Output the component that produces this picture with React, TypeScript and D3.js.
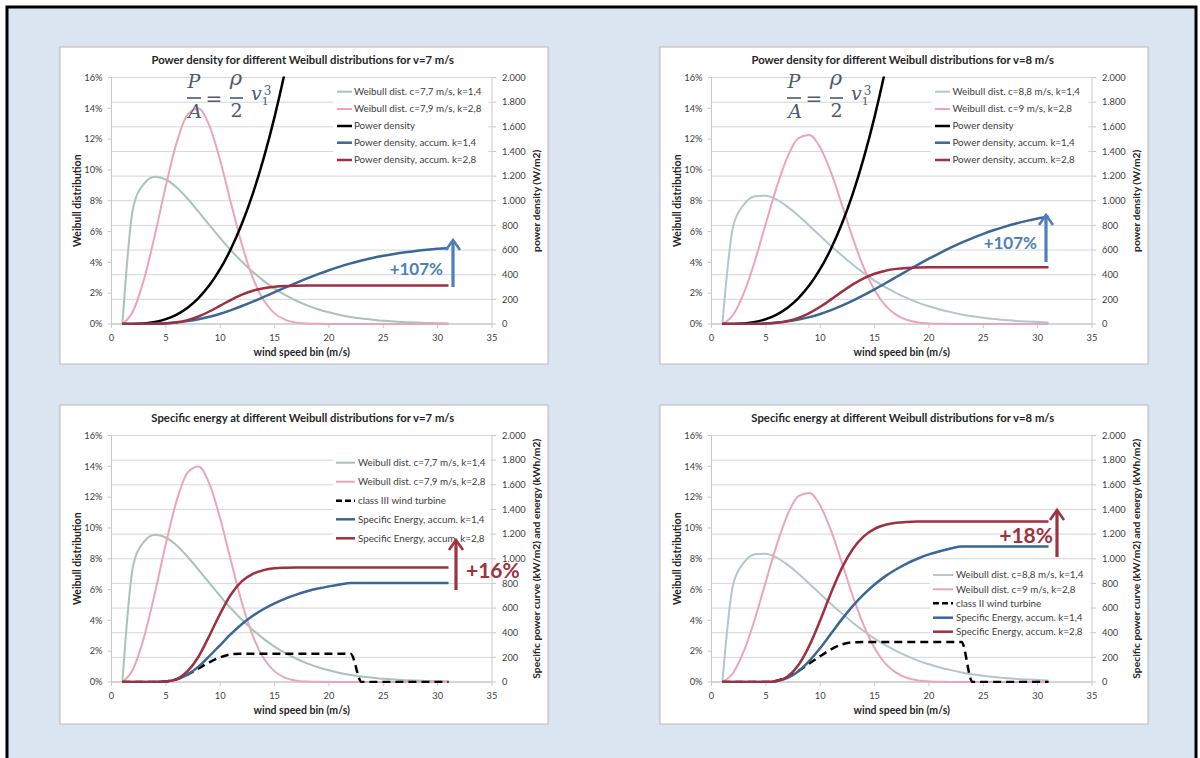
import React from 'react';
import * as d3 from 'd3';

// ---------- DATA ----------
const windBins = [1, 2, 3, 4, 5, 6, 7, 8, 9, 10, 11, 12, 13, 14, 15, 16, 17, 18, 19, 20, 21, 22, 23, 24, 25, 26, 27, 28, 29, 30, 31];
const xTicks = [0, 5, 10, 15, 20, 25, 30, 35];
const leftTicks = [0, 2, 4, 6, 8, 10, 12, 14, 16];
const leftTickLabels = ['0%', '2%', '4%', '6%', '8%', '10%', '12%', '14%', '16%'];
const rightTicks = [0, 200, 400, 600, 800, 1000, 1200, 1400, 1600, 1800, 2000];
const rightTickLabels = ['0', '200', '400', '600', '800', '1.000', '1.200', '1.400', '1.600', '1.800', '2.000'];

// Weibull distributions (% per bin)
const weibullC77k14 = [0, 7.58, 9.11, 9.55, 9.38, 8.86, 8.13, 7.29, 6.43, 5.58, 4.77, 4.04, 3.38, 2.8, 2.3, 1.87, 1.51, 1.21, 0.96, 0.76, 0.59, 0.46, 0.36, 0.28, 0.21, 0.16, 0.12, 0.09, 0.07, 0.05, 0.04];
const weibullC79k28 = [0, 0.86, 2.93, 5.8, 8.97, 11.79, 13.59, 13.98, 12.87, 10.61, 7.82, 5.14, 2.99, 1.54, 0.69, 0.27, 0.09, 0.03, 0.01, 0, 0, 0, 0, 0, 0, 0, 0, 0, 0, 0, 0];
const weibullC88k14 = [0, 6.36, 7.76, 8.29, 8.33, 8.07, 7.6, 7.03, 6.38, 5.72, 5.06, 4.44, 3.85, 3.31, 2.82, 2.39, 2.01, 1.68, 1.39, 1.15, 0.94, 0.77, 0.62, 0.5, 0.4, 0.32, 0.26, 0.2, 0.16, 0.13, 0.1];
const weibullC9k28 = [0, 0.6, 2.05, 4.11, 6.52, 8.9, 10.87, 12.07, 12.26, 11.45, 9.82, 7.73, 5.57, 3.67, 2.2, 1.19, 0.59, 0.26, 0.1, 0.04, 0.01, 0, 0, 0, 0, 0, 0, 0, 0, 0, 0];

// Power density (W/m2)
const powerDensity = [0, 0.6, 4.9, 16.5, 39.2, 76.6, 132.3, 210.1, 313.6, 446.5, 612.5, 815.2, 1058.4, 1345.7, 1680.7, 2067.2, 2508.8, 3009.2, 3572.1];
const powerAccumK14v7 = [0, 0.05, 0.49, 2.07, 5.75, 12.53, 23.29, 38.61, 58.77, 83.68, 112.9, 145.8, 181.6, 219.3, 257.9, 296.4, 334.2, 370.4, 404.7, 436.5, 465.6, 491.8, 515.1, 535.6, 553.5, 568.8, 581.9, 592.9, 602.2, 609.9, 616.1];
const powerAccumK28v7 = [0, 0.01, 0.15, 1.11, 4.62, 13.65, 31.63, 61, 101.4, 148.7, 196.6, 238.5, 270.2, 290.9, 302.6, 308.2, 310.5, 311.4, 311.6, 311.7, 311.7, 311.7, 311.7, 311.7, 311.7, 311.7, 311.7, 311.7, 311.7, 311.7, 311.7];
const powerAccumK14v8 = [0, 0.04, 0.42, 1.79, 5.06, 11.24, 21.29, 36.06, 56.07, 81.61, 112.6, 148.8, 189.5, 234.1, 281.5, 330.9, 381.3, 431.9, 481.5, 529.7, 575.8, 619.3, 659.9, 697.3, 731.6, 762.6, 790.3, 814.9, 836.6, 855.5, 871.9];
const powerAccumK28v8 = [0, 0, 0.1, 0.78, 3.34, 10.15, 24.53, 49.89, 88.34, 139.5, 199.6, 262.6, 321.6, 371, 407.9, 432.5, 447.2, 455, 458.7, 460.3, 460.8, 461, 461, 461, 461, 461, 461, 461, 461, 461, 461];

// Turbine power curves and specific energy
const turbineClassIII = [0, 0, 0, 0, 5, 22, 60, 110, 160, 200, 225, 230, 230, 230, 230, 230, 230, 230, 230, 230, 230, 230, 0, 0, 0, 0, 0, 0, 0, 0, 0];
const turbineClassII = [0, 0, 0, 0, 0, 10, 40, 90, 150, 210, 265, 305, 322, 325, 325, 325, 325, 325, 325, 325, 325, 325, 325, 0, 0, 0, 0, 0, 0, 0, 0];
const energyAccumK14v7 = [0, 0, 0, 0, 4, 21, 60, 125, 210, 300, 390, 470, 537, 592, 638, 677, 709, 736, 758, 776, 791, 803, 803, 803, 803, 803, 803, 803, 803, 803, 803];
const energyAccumK28v7 = [0, 0, 0, 0, 4, 24, 88, 205, 375, 555, 712, 818, 877, 908, 922, 927, 929, 929, 929, 929, 929, 929, 929, 929, 929, 929, 929, 929, 929, 929, 929];
const energyAccumK14v8 = [0, 0, 0, 0, 0, 7, 33, 88, 172, 276, 393, 510, 618, 711, 791, 859, 915, 963, 1002, 1035, 1061, 1083, 1100, 1100, 1100, 1100, 1100, 1100, 1100, 1100, 1100];
const energyAccumK28v8 = [0, 0, 0, 0, 0, 8, 45, 138, 295, 501, 724, 926, 1079, 1181, 1243, 1276, 1292, 1299, 1302, 1303, 1303, 1303, 1303, 1303, 1303, 1303, 1303, 1303, 1303, 1303, 1303];

// ---------- STYLE ----------
const FONT = 'Lato, "Open Sans", sans-serif';
const C_GREEN = '#a9c3b7';
const C_GREY_BLUE = '#b4c5d0';
const C_PINK = '#eaa6b8';
const C_BLUE = '#3a6698';
const C_RED = '#9e3040';
const C_BLACK = '#000000';
const C_ANN_BLUE = '#4f7fb8';
const C_ANN_RED = '#9b3340';

type Series = { values: number[]; color: string; width: number; dash?: string; axis: 'left' | 'right' };
type LegendItem = { label: string; color: string; dash?: string; thin?: boolean };

interface PanelProps {
  id: string;
  bx: number;
  by: number;
  h: number;
  title: string;
  rightLabel: string;
  series: Series[];
  legend: LegendItem[];
  legendBox: [number, number, number, number];
  legendSample: [number, number];
  legendTextX: number;
  legendRows: number[];
  ann: { text: string; tx: number; ty: number; anchor: 'start' | 'end'; size: number; color: string; ax: number; ay0: number; ay1: number; acolor: string };
  formula?: boolean;
}

function Formula({ x, y }: { x: number; y: number }) {
  const f = '"DejaVu Serif", "Liberation Serif", serif';
  const col = '#4f5a72';
  return (
    <g fill={col} fontFamily={f} fontStyle="italic">
      <text x={x + 5} y={y + 18} fontSize={19} textAnchor="middle">P</text>
      <line x1={x - 2} x2={x + 12} y1={y + 28} y2={y + 28} stroke={col} strokeWidth={1.6} />
      <text x={x + 6} y={y + 48} fontSize={19} textAnchor="middle">A</text>
      <text x={x + 25} y={y + 35.5} fontSize={20} fontStyle="normal" textAnchor="middle">=</text>
      <text x={x + 47} y={y + 15} fontSize={21} textAnchor="middle">ρ</text>
      <line x1={x + 41} x2={x + 54} y1={y + 28} y2={y + 28} stroke={col} strokeWidth={1.6} />
      <text x={x + 47.5} y={y + 47} fontSize={19} fontStyle="normal" textAnchor="middle">2</text>
      <text x={x + 62} y={y + 30} fontSize={19}>
        v
        <tspan dy={5} fontSize={11} fontStyle="normal">1</tspan>
        <tspan dx={-5} dy={-10} fontSize={12} fontStyle="normal">3</tspan>
      </text>
    </g>
  );
}

function Panel(p: PanelProps) {
  const { bx, by } = p;
  const pl = bx + 51.5;
  const pr = bx + 432;
  const pt = by + 30.5;
  const pb = by + 277;
  const x = d3.scaleLinear().domain([0, 35]).range([pl, pr]);
  const yL = d3.scaleLinear().domain([0, 16]).range([pb, pt]);
  const yR = d3.scaleLinear().domain([0, 2000]).range([pb, pt]);
  const cx = (pl + pr) / 2;
  const cy = (pt + pb) / 2;

  const lineFor = (s: Series) => {
    const sc = s.axis === 'left' ? yL : yR;
    const pts: [number, number][] = s.values.map((v, i) => [windBins[i], v]);
    return d3
      .line<[number, number]>()
      .x((d) => x(d[0]))
      .y((d) => sc(d[1]))
      .curve(d3.curveMonotoneX)(pts) as string;
  };

  const a = p.ann;
  return (
    <g>
      <rect x={bx} y={by} width={488} height={p.h} fill="#ffffff" stroke="#b8b8b8" strokeWidth={1} />
      <clipPath id={`clip-${p.id}`}>
        <rect x={pl} y={pt - 1} width={pr - pl} height={pb - pt + 2} />
      </clipPath>
      {/* title */}
      <text x={cx + 1} y={by + 17} fontFamily={FONT} fontWeight={700} fontSize={11.3} textAnchor="middle" fill="#262626">
        {p.title}
      </text>
      {/* gridlines */}
      {rightTicks.map((t) => (
        <line key={`g${t}`} x1={pl} x2={pr} y1={yR(t)} y2={yR(t)} stroke="#d6d6d6" strokeWidth={1} />
      ))}
      {/* axes lines */}
      <line x1={pl} x2={pl} y1={pt} y2={pb} stroke="#c8c8c8" />
      <line x1={pr} x2={pr} y1={pt} y2={pb} stroke="#c8c8c8" />
      <line x1={pl} x2={pr} y1={pb} y2={pb} stroke="#bfbfbf" />
      {leftTicks.map((t, i) => (
        <g key={`l${t}`}>
          <line x1={pl - 4} x2={pl} y1={yL(t)} y2={yL(t)} stroke="#c8c8c8" />
          <text x={pl - 9} y={yL(t) + 3.2} fontFamily={FONT} fontSize={9.3} textAnchor="end" fill="#404040">
            {leftTickLabels[i]}
          </text>
        </g>
      ))}
      {rightTicks.map((t, i) => (
        <g key={`r${t}`}>
          <line x1={pr} x2={pr + 4} y1={yR(t)} y2={yR(t)} stroke="#c8c8c8" />
          <text x={pr + 10} y={yR(t) + 3.2} fontFamily={FONT} fontSize={9.3} textAnchor="start" fill="#404040">
            {rightTickLabels[i]}
          </text>
        </g>
      ))}
      {xTicks.map((t) => (
        <g key={`x${t}`}>
          <line x1={x(t)} x2={x(t)} y1={pb} y2={pb + 4} stroke="#c8c8c8" />
          <text x={x(t)} y={pb + 17} fontFamily={FONT} fontSize={9.3} textAnchor="middle" fill="#404040">
            {t}
          </text>
        </g>
      ))}
      {/* axis titles */}
      <text x={cx} y={pb + 32} fontFamily={FONT} fontWeight={700} fontSize={10.5} textAnchor="middle" fill="#262626">
        wind speed bin (m/s)
      </text>
      <text
        transform={`translate(${bx + 21},${cy}) rotate(-90)`}
        fontFamily={FONT}
        fontWeight={700}
        fontSize={10.5}
        textAnchor="middle"
        fill="#262626"
      >
        Weibull distribution
      </text>
      <text
        transform={`translate(${bx + 480},${cy}) rotate(-90)`}
        fontFamily={FONT}
        fontWeight={700}
        fontSize={10.3}
        textAnchor="middle"
        fill="#262626"
      >
        {p.rightLabel}
      </text>
      {/* series */}
      <g clipPath={`url(#clip-${p.id})`}>
        {p.series.map((s, i) => (
          <path
            key={i}
            d={lineFor(s)}
            fill="none"
            stroke={s.color}
            strokeWidth={s.width}
            strokeDasharray={s.dash}
            strokeLinejoin="round"
          />
        ))}
      </g>
      {/* legend */}
      <rect x={bx + p.legendBox[0]} y={by + p.legendBox[1]} width={p.legendBox[2]} height={p.legendBox[3]} fill="#ffffff" />
      {p.legend.map((l, i) => (
        <g key={`lg${i}`}>
          <line
            x1={bx + p.legendSample[0]}
            x2={bx + p.legendSample[1]}
            y1={by + p.legendRows[i]}
            y2={by + p.legendRows[i]}
            stroke={l.color}
            strokeWidth={l.thin ? 2 : 2.5}
            strokeDasharray={l.dash}
          />
          <text x={bx + p.legendTextX} y={by + p.legendRows[i] + 3.3} fontFamily={FONT} fontSize={9.8} fill="#404040">
            {l.label}
          </text>
        </g>
      ))}
      {p.formula && <Formula x={bx + 129} y={by + 23} />}
      {/* annotation */}
      <line x1={a.ax} x2={a.ax} y1={a.ay0} y2={a.ay1 + 1} stroke={a.acolor} strokeWidth={3.2} />
      <polyline
        points={`${a.ax - 7},${a.ay1 + 10} ${a.ax},${a.ay1} ${a.ax + 7},${a.ay1 + 10}`}
        fill="none"
        stroke={a.acolor}
        strokeWidth={2.6}
        strokeLinejoin="miter"
      />
      <text x={a.tx} y={a.ty} fontFamily={FONT} fontWeight={700} fontSize={a.size} textAnchor={a.anchor} fill={a.color}>
        {a.text}
      </text>
    </g>
  );
}

export default function App() {
  const legendTop = [44.7, 62, 79, 95.7, 113];
  const p1: PanelProps = {
    id: 'p1',
    bx: 60,
    by: 47,
    h: 317,
    title: 'Power density for different Weibull distributions for v=7 m/s',
    rightLabel: 'power density (W/m2)',
    series: [
      { values: weibullC77k14, color: C_GREEN, width: 2, axis: 'left' },
      { values: weibullC79k28, color: C_PINK, width: 2, axis: 'left' },
      { values: powerDensity, color: C_BLACK, width: 2.5, axis: 'right' },
      { values: powerAccumK14v7, color: C_BLUE, width: 2.5, axis: 'right' },
      { values: powerAccumK28v7, color: C_RED, width: 2.5, axis: 'right' },
    ],
    legend: [
      { label: 'Weibull dist. c=7,7 m/s, k=1,4', color: C_GREEN, thin: true },
      { label: 'Weibull dist. c=7,9 m/s, k=2,8', color: C_PINK, thin: true },
      { label: 'Power density', color: C_BLACK },
      { label: 'Power density, accum. k=1,4', color: C_BLUE },
      { label: 'Power density, accum. k=2,8', color: C_RED },
    ],
    legendBox: [273, 36, 155, 86],
    legendSample: [277, 292],
    legendTextX: 294,
    legendRows: legendTop,
    ann: { text: '+107%', tx: 443, ty: 275, anchor: 'end', size: 17, color: C_ANN_BLUE, ax: 453, ay0: 287, ay1: 240, acolor: C_ANN_BLUE },
    formula: true,
  };
  const p2: PanelProps = {
    id: 'p2',
    bx: 660,
    by: 47,
    h: 317,
    title: 'Power density for different Weibull distributions for v=8 m/s',
    rightLabel: 'power density (W/m2)',
    series: [
      { values: weibullC88k14, color: C_GREY_BLUE, width: 2, axis: 'left' },
      { values: weibullC9k28, color: C_PINK, width: 2, axis: 'left' },
      { values: powerDensity, color: C_BLACK, width: 2.5, axis: 'right' },
      { values: powerAccumK14v8, color: C_BLUE, width: 2.5, axis: 'right' },
      { values: powerAccumK28v8, color: C_RED, width: 2.5, axis: 'right' },
    ],
    legend: [
      { label: 'Weibull dist. c=8,8 m/s, k=1,4', color: C_GREY_BLUE, thin: true },
      { label: 'Weibull dist. c=9 m/s, k=2,8', color: C_PINK, thin: true },
      { label: 'Power density', color: C_BLACK },
      { label: 'Power density, accum. k=1,4', color: C_BLUE },
      { label: 'Power density, accum. k=2,8', color: C_RED },
    ],
    legendBox: [271, 36, 157, 86],
    legendSample: [275, 290],
    legendTextX: 292.5,
    legendRows: legendTop,
    ann: { text: '+107%', tx: 1037, ty: 249, anchor: 'end', size: 17, color: C_ANN_BLUE, ax: 1046, ay0: 262, ay1: 215, acolor: C_ANN_BLUE },
    formula: true,
  };
  const p3: PanelProps = {
    id: 'p3',
    bx: 60,
    by: 405,
    h: 319,
    title: 'Specific energy at different Weibull distributions for v=7 m/s',
    rightLabel: 'Specific power curve (kW/m2) and energy (kWh/m2)',
    series: [
      { values: weibullC77k14, color: C_GREEN, width: 2, axis: 'left' },
      { values: weibullC79k28, color: C_PINK, width: 2, axis: 'left' },
      { values: turbineClassIII, color: C_BLACK, width: 2.5, dash: '8 5', axis: 'right' },
      { values: energyAccumK14v7, color: C_BLUE, width: 2.5, axis: 'right' },
      { values: energyAccumK28v7, color: C_RED, width: 2.5, axis: 'right' },
    ],
    legend: [
      { label: 'Weibull dist. c=7,7 m/s, k=1,4', color: C_GREEN, thin: true },
      { label: 'Weibull dist. c=7,9 m/s, k=2,8', color: C_PINK, thin: true },
      { label: 'class III wind turbine', color: C_BLACK, dash: '6 3' },
      { label: 'Specific Energy, accum. k=1,4', color: C_BLUE },
      { label: 'Specific Energy, accum. k=2,8', color: C_RED },
    ],
    legendBox: [273, 47, 157, 96],
    legendSample: [276, 295],
    legendTextX: 298,
    legendRows: [57.7, 76.7, 95.7, 114.3, 133.3],
    ann: { text: '+16%', tx: 466, ty: 578, anchor: 'start', size: 21, color: C_ANN_RED, ax: 456, ay0: 590, ay1: 540, acolor: C_ANN_RED },
  };
  const p4: PanelProps = {
    id: 'p4',
    bx: 660,
    by: 405,
    h: 319,
    title: 'Specific energy at different Weibull distributions for v=8 m/s',
    rightLabel: 'Specific power curve (kW/m2) and energy (kWh/m2)',
    series: [
      { values: weibullC88k14, color: C_GREY_BLUE, width: 2, axis: 'left' },
      { values: weibullC9k28, color: C_PINK, width: 2, axis: 'left' },
      { values: turbineClassII, color: C_BLACK, width: 2.5, dash: '8 5', axis: 'right' },
      { values: energyAccumK14v8, color: C_BLUE, width: 2.5, axis: 'right' },
      { values: energyAccumK28v8, color: C_RED, width: 2.5, axis: 'right' },
    ],
    legend: [
      { label: 'Weibull dist. c=8,8 m/s, k=1,4', color: C_GREY_BLUE, thin: true },
      { label: 'Weibull dist. c=9 m/s, k=2,8', color: C_PINK, thin: true },
      { label: 'class II wind turbine', color: C_BLACK, dash: '6 3' },
      { label: 'Specific Energy, accum. k=1,4', color: C_BLUE },
      { label: 'Specific Energy, accum. k=2,8', color: C_RED },
    ],
    legendBox: [270, 162, 160, 73],
    legendSample: [273, 293],
    legendTextX: 296,
    legendRows: [170, 184.3, 198.3, 212.7, 226.7],
    ann: { text: '+18%', tx: 1053, ty: 542.5, anchor: 'end', size: 21, color: C_ANN_RED, ax: 1057, ay0: 557, ay1: 510, acolor: C_ANN_RED },
  };

  return (
    <svg
      width={1200}
      height={758}
      viewBox="0 0 1200 758"
      style={{ position: 'absolute', left: 0, top: 0, display: 'block' }}
    >
      <rect x={0} y={0} width={1200} height={758} fill="#ffffff" />
      <rect x={7} y={7} width={1189} height={800} fill="#dbe5f1" stroke="#000000" strokeWidth={3} />
      <Panel {...p1} />
      <Panel {...p2} />
      <Panel {...p3} />
      <Panel {...p4} />
    </svg>
  );
}
